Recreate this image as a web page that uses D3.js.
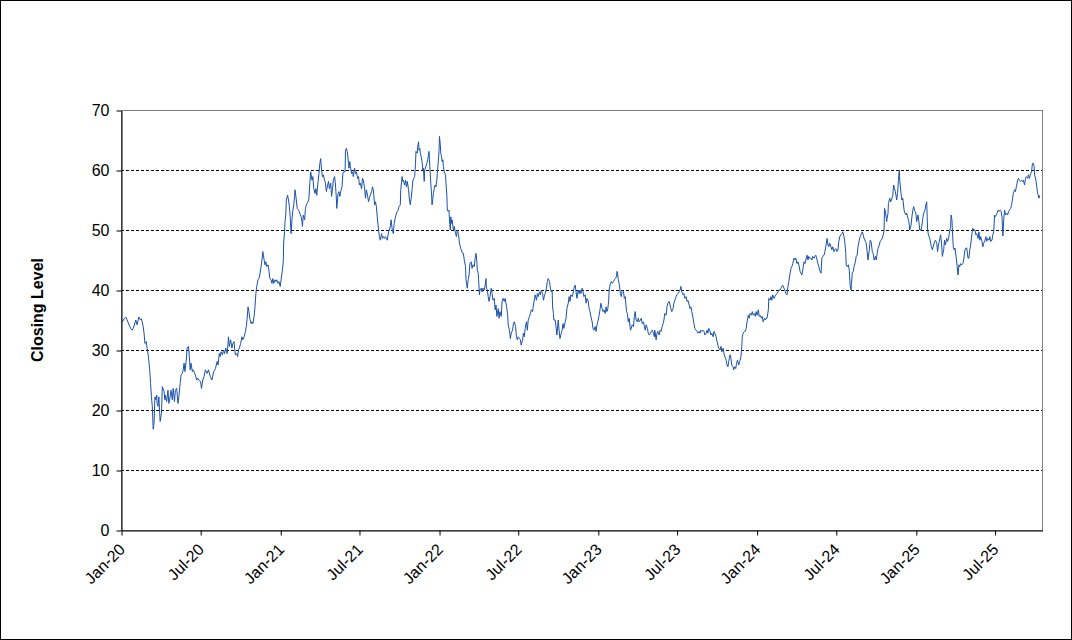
<!DOCTYPE html>
<html><head><meta charset="utf-8">
<script src="https://cdn.jsdelivr.net/npm/d3@7"></script>
<style>
body{margin:0;background:#fff}
svg{display:block}
text{font-family:"Liberation Sans",Arial,Helvetica,sans-serif;fill:#000}
</style>
</head><body>
<svg id="chart" width="1072" height="640"></svg>
<script>
// Closing levels: [days since 2020-01-01, close]
const levels2020 = [[3,34.7],[8,35.3],[11,35.5],[14,35],[22,33.6],[26,33.3],[30,34],[34,35],[37,34.2],[41,35.5],[45,35],[47,35.2],[51,33.9],[53,32.8],[55,31.1],[58,31.4],[60,30.3],[63,28.9],[66,26.7],[68,24.4],[70,22.2],[72,20.6],[74,16.8],[76,17.8],[78,22.2],[80,21.7],[82,22.5],[83,21.1],[85,20.6],[87,22.2],[90,18.1],[93,19.4],[95,23.9],[99,23.1],[101,21.7],[102,22.5],[105,21.4],[108,23.3],[110,21.1],[113,22.2],[115,23.3],[118,21.7],[120,23.6],[123,21.4],[125,23.3],[128,23.6],[131,21.1],[133,22.2],[136,24.4],[138,25.8],[141,26.1],[143,26.7],[145,27.8],[147,26.4],[150,28.3],[152,30.3],[155,30.6],[156,30],[159,26.7],[161,27.8],[164,26.4],[166,26.7],[168,26.4],[171,25.8],[174,25],[176,25.3],[179,25],[183,24.7],[185,23.6],[188,25],[191,25.6],[194,26.7],[198,26.1],[201,26.7],[205,25.6],[209,25],[213,26.4],[217,26.9],[221,28.1],[223,27.5],[226,29.4],[228,28.9],[230,29.7],[233,29.2],[236,30],[238,29.4],[241,30.3],[244,29.4],[246,31.1],[247,32.2],[249,30.6],[252,31.7],[255,30.3],[257,31.1],[260,31.4],[261,30.3],[263,29.2],[266,29.4],[268,28.9],[270,30],[272,30.3],[275,31.1],[278,32.2],[280,31.7],[283,32.2],[286,33.1],[288,33.9],[290,35.3],[292,37.2],[294,36.4],[296,35.3],[299,34.4],[301,34.7],[303,34.4],[306,35.6],[308,37.2],[310,39.4],[312,40.6],[315,41.7],[317,41.9],[319,42.5],[322,43.9],[324,45],[326,46.4],[329,45],[331,44.2],[333,44.7],[335,43.9],[338,44.2],[340,43.3],[342,41.9],[345,41.7],[347,41.1],[349,41.9],[351,41.1],[354,41.7],[356,41.4],[358,41.7],[361,41.1],[363,41.4]];

const levels2021 = [[366,40.6],[368,41.7],[371,43.3],[373,44.7],[374,48],[376,49.7],[377,51.4],[379,52.8],[380,55],[383,55.8],[385,55],[387,53.9],[389,52.2],[391,49.4],[393,51.7],[395,53.3],[397,54.2],[399,55.6],[400,56.7],[403,55],[405,53.6],[408,53.3],[411,52.8],[414,52.2],[416,51.4],[417,50.6],[419,52.5],[422,51.7],[424,53.6],[426,54.2],[430,54.7],[432,55.3],[434,57.8],[436,59.7],[439,58.3],[441,58.9],[443,56.9],[446,56.1],[448,56.9],[450,55.8],[453,58.1],[455,59.4],[457,61.1],[459,61.9],[461,60],[463,58.9],[465,59.2],[468,58.3],[470,57.8],[472,56.4],[475,57.5],[477,58.1],[479,56.9],[482,57.8],[484,55.6],[486,56.7],[488,58.3],[491,58.9],[493,57.5],[495,55.3],[496,53.6],[499,56.1],[501,56.4],[503,55.6],[505,56.4],[508,57.2],[510,59.4],[512,59.7],[515,59.7],[516,63.3],[518,63.6],[520,63.1],[521,62.5],[523,61.1],[524,60.3],[526,61.4],[527,60.6],[530,59.4],[532,59.7],[534,58.9],[537,60.3],[539,59.4],[541,59.7],[544,58.6],[546,58.9],[548,57.5],[550,57.8],[553,56.9],[555,58.6],[557,58.3],[560,56.9],[562,55.3],[564,56.7],[567,55.6],[569,54.7],[571,55.3],[573,55.8],[576,56.4],[578,57.2],[580,56.7],[583,54.2],[585,54.7],[587,53.9],[589,52.2],[592,50],[594,48.9],[596,48.3],[599,49.4],[601,48.6],[603,48.9],[606,48.6],[608,48.9],[610,48.6],[612,48.3],[615,49.7],[617,50],[619,50.6],[621,51.7],[623,50.3],[626,49.4],[628,51.1],[630,51.9],[632,52.5],[635,53.1],[637,53.3],[639,53.9],[642,54.2],[643,56.7],[645,58.1],[646,58.9],[648,58.1],[649,58.3],[652,57.5],[654,58.3],[656,57.2],[658,58.1],[661,56.7],[663,55],[665,54.2],[667,55.3],[669,56.7],[671,58.3],[673,58.6],[675,58.9],[677,61.1],[678,63.1],[681,62.8],[682,63.9],[684,64.7],[685,63.3],[687,63.6],[688,62.8],[690,62.2],[692,61.4],[694,60],[695,60.3],[697,58.1],[698,60],[701,60.6],[703,61.1],[705,61.7],[708,63.1],[709,61.7],[711,59.2],[712,57.8],[714,55.8],[715,54.2],[717,55.3],[718,56.1],[720,56.9],[722,57.5],[724,57.2],[726,58.3],[727,59.4],[729,61.1]];

const levels2022 = [[731,63.1],[732,65.6],[734,64.2],[735,62.8],[737,62.2],[738,61.4],[740,61.7],[741,60.6],[743,59.7],[746,59.2],[747,57.8],[749,55.8],[750,53.3],[752,53.1],[754,53.3],[755,51.7],[757,50],[758,52.2],[760,51.1],[761,51.7],[763,50.6],[764,50],[766,50.6],[769,49.4],[771,48.9],[773,50],[776,49.2],[778,47.8],[780,47.2],[782,46.7],[785,46.1],[787,46.1],[789,45],[792,43.9],[793,41.7],[796,40.3],[798,41.7],[800,42.5],[802,44.4],[805,44.7],[807,43.6],[809,44.2],[812,43.9],[814,45.3],[816,46.1],[818,44.7],[819,43.3],[821,42.8],[822,41.7],[824,39.2],[825,40],[828,40.3],[830,39.7],[832,40.3],[835,40],[837,40.8],[839,41.9],[840,40.3],[842,40],[844,38.9],[846,38.1],[848,38.9],[851,40.3],[853,39.4],[855,38.3],[858,38.6],[860,36.7],[862,37.5],[864,35.6],[867,36.9],[869,35.3],[871,36.4],[874,35.6],[876,38.1],[878,38.6],[881,38.1],[883,38.6],[885,37.8],[887,36.9],[889,35.6],[890,34.2],[893,33.3],[895,31.9],[897,32.8],[900,33.3],[902,34.4],[904,34.7],[907,33.9],[909,32.2],[911,31.7],[913,32.2],[916,31.9],[918,31.7],[920,30.8],[923,31.7],[925,32.8],[927,32.2],[929,33.6],[932,34.7],[934,33.3],[936,35],[939,35.6],[941,36.1],[943,36.7],[946,36.4],[948,37.5],[950,38.3],[952,39.2],[955,38.3],[957,39.4],[959,38.9],[962,39.7],[964,39.2],[966,40],[969,39.4],[971,38.3],[973,38.9],[975,39.4],[978,40.3],[980,41.4],[982,41.9],[985,41.4],[987,40.3],[989,39.7],[991,40],[992,37.2],[994,36.1],[995,35],[998,35],[1000,33.9],[1002,32.5],[1005,35],[1007,33.3],[1009,31.9],[1012,32.8],[1014,33.3],[1016,34.4],[1018,33.6],[1021,34.7],[1023,35.3],[1025,36.9],[1028,37.8],[1030,38.9],[1032,38.1],[1034,39.2],[1037,38.9],[1039,39.4],[1041,40.3],[1044,40.8],[1046,39.7],[1048,38.6],[1051,40],[1053,39.4],[1055,40],[1057,39.4],[1060,40.3],[1062,39.7],[1064,38.9],[1067,39.2],[1069,37.8],[1071,38.6],[1074,38.1],[1076,36.9],[1078,36.4],[1080,35.6],[1083,34.7],[1085,33.6],[1087,33.3],[1090,33.9],[1092,33.1],[1094,34.2]];

const levels2023 = [[1096,34.7],[1099,35.8],[1101,36.7],[1103,37.8],[1106,36.9],[1108,36.4],[1110,36.7],[1113,36.1],[1115,37.2],[1117,36.4],[1119,36.9],[1121,38.3],[1122,40],[1125,41.1],[1127,41.4],[1129,41.1],[1132,41.4],[1134,41.7],[1136,41.9],[1139,42.2],[1140,43.1],[1142,42.5],[1143,41.7],[1145,41.1],[1148,39.4],[1150,38.9],[1152,40],[1155,39.7],[1157,38.6],[1159,38.9],[1162,36.4],[1164,36.1],[1166,34.7],[1168,35.3],[1171,33.3],[1173,33.6],[1175,34.2],[1178,33.9],[1180,35.6],[1182,36.4],[1184,35],[1187,34.7],[1189,35.3],[1191,34.7],[1194,35],[1196,35.3],[1198,34.4],[1201,34.7],[1203,33.9],[1205,33.3],[1207,34.2],[1210,33.6],[1212,32.8],[1214,32.5],[1217,32.8],[1219,33.1],[1221,33.3],[1224,32.8],[1226,32.2],[1227,33.3],[1230,31.7],[1232,32.8],[1234,33.1],[1237,32.5],[1239,33.3],[1241,33.1],[1244,33.9],[1246,34.4],[1248,35],[1250,36.1],[1253,35.8],[1255,37.2],[1257,37.8],[1260,38.1],[1262,37.5],[1264,36.9],[1266,36.4],[1269,36.9],[1271,37.8],[1273,38.3],[1276,38.9],[1278,39.2],[1280,39.4],[1283,39.7],[1285,40],[1287,40.6],[1289,39.7],[1292,39.2],[1294,39.4],[1296,38.6],[1299,38.9],[1301,38.1],[1303,38.3],[1306,37.5],[1308,36.9],[1310,37.2],[1312,36.4],[1315,35.3],[1317,34.4],[1319,33.6],[1322,33.3],[1324,33.1],[1326,32.8],[1329,33.1],[1331,32.8],[1333,33.3],[1335,33.1],[1338,33.3],[1340,33.1],[1342,32.5],[1345,32.8],[1347,33.3],[1349,32.8],[1351,33.6],[1354,33.1],[1356,32.5],[1358,32.8],[1361,32.2],[1363,33.1],[1365,32.8],[1368,32.2],[1370,31.4],[1372,30.8],[1374,30.3],[1377,30],[1379,30.6],[1381,29.7],[1384,30.3],[1386,29.4],[1388,28.9],[1391,28.3],[1393,27.5],[1395,27.2],[1397,28.1],[1400,29.2],[1402,28.6],[1404,27.5],[1407,27.2],[1408,26.7],[1411,27.2],[1413,26.9],[1415,27.8],[1417,28.3],[1420,27.5],[1422,28.1],[1423,28.3],[1425,28.9],[1427,30.6],[1428,32.2],[1430,32.8],[1433,33.1],[1435,33.1],[1437,33.6],[1439,34.7],[1442,35.8],[1444,35.3],[1446,36.1],[1449,35.8],[1451,36.4],[1453,35.8],[1456,36.1],[1458,35.6],[1460,36.4]];

const levels2024 = [[1462,35.8],[1465,36.7],[1467,35.6],[1469,35.8],[1472,35.3],[1474,35.6],[1476,34.7],[1479,35.3],[1481,35],[1483,35.3],[1485,35.3],[1488,36.7],[1489,38.6],[1492,38.3],[1494,38.9],[1496,38.3],[1498,39.2],[1501,38.6],[1503,38.9],[1505,39.2],[1508,39.4],[1510,39.7],[1512,40],[1515,40],[1517,40.3],[1519,40.6],[1521,40.8],[1524,40.3],[1526,40],[1528,39.4],[1531,39.2],[1533,40.6],[1535,41.4],[1538,42.8],[1540,43.6],[1542,43.9],[1544,44.4],[1547,45.3],[1549,45],[1551,45.3],[1554,44.4],[1556,44.7],[1558,44.2],[1561,43.1],[1563,42.8],[1565,42.5],[1567,43.3],[1570,44.7],[1572,44.4],[1574,45],[1577,45.8],[1579,45],[1581,45.6],[1583,45.3],[1586,45.3],[1588,45],[1590,45.6],[1593,45.3],[1595,45.6],[1597,45.8],[1600,45],[1602,44.4],[1604,43.9],[1606,43.3],[1609,42.8],[1611,45.3],[1613,45.6],[1616,45.8],[1618,46.4],[1620,47.2],[1623,48.6],[1625,47.5],[1627,47.2],[1629,47.8],[1632,47.2],[1634,46.7],[1636,47.2],[1639,46.4],[1641,46.7],[1643,46.9],[1646,46.4],[1648,46.7],[1650,48.1],[1652,48.9],[1655,49.2],[1657,49.4],[1659,49.7],[1662,48.9],[1664,47.8],[1666,46.1],[1667,44.2],[1669,43.9],[1672,44.2],[1674,43.3],[1676,40.8],[1678,40],[1679,41.1],[1681,42.8],[1683,43.1],[1685,43.9],[1688,44.7],[1690,45.6],[1692,45.8],[1694,47.2],[1697,48.3],[1699,48.9],[1701,49.2],[1704,49.7],[1706,49.2],[1708,48.6],[1711,48.1],[1713,47.8],[1715,46.4],[1717,45],[1720,46.7],[1722,48.3],[1724,48.1],[1727,46.4],[1729,46.1],[1731,45],[1734,45.6],[1736,45],[1738,46.1],[1740,46.9],[1743,47.5],[1745,48.1],[1747,48.3],[1750,48.6],[1752,49.2],[1754,50],[1755,53.6],[1757,53.1],[1758,52.5],[1760,51.4],[1761,51.9],[1763,52.8],[1764,54.4],[1767,55.3],[1769,54.7],[1771,55],[1774,55.8],[1776,57.5],[1778,56.9],[1780,56.4],[1783,55],[1785,56.1],[1787,58.3],[1789,60],[1790,58.3],[1793,56.1],[1795,55],[1797,55.3],[1800,53.3],[1802,52.8],[1804,52.5],[1806,52.8],[1809,51.9],[1811,51.4],[1813,50],[1816,50.8],[1818,52.2],[1820,53.3],[1822,53.9],[1825,53.1]];

const levels2025 = [[1827,52.8],[1829,51.4],[1832,52.5],[1834,51.4],[1836,50],[1839,50],[1841,50.8],[1843,51.9],[1845,52.8],[1848,53.3],[1850,54.2],[1852,54.7],[1854,50],[1856,49.2],[1859,48.6],[1861,47.8],[1863,47.2],[1865,46.7],[1868,47.5],[1870,48.1],[1872,48.3],[1875,47.8],[1877,46.4],[1879,47.5],[1881,48.1],[1884,49.2],[1886,47.8],[1888,45.6],[1891,46.7],[1893,48.3],[1895,47.5],[1898,48.6],[1900,48.1],[1902,48.6],[1904,49.4],[1907,50.6],[1908,52.5],[1910,51.7],[1911,50],[1913,47.2],[1915,46.7],[1917,47],[1920,45.3],[1922,43.9],[1924,42.5],[1926,44.2],[1928,43.9],[1930,44.4],[1933,44.2],[1935,44.4],[1937,45],[1940,46.7],[1942,47],[1944,47],[1947,45.3],[1949,45.3],[1951,46.7],[1953,47.5],[1956,49.4],[1958,50.3],[1960,50],[1963,50],[1965,49.2],[1967,49.4],[1970,48.6],[1972,49.7],[1974,48.3],[1976,48.9],[1979,48.1],[1981,47.2],[1983,47.8],[1986,48.3],[1988,48.9],[1990,48.1],[1992,48.6],[1995,48.3],[1997,48.9],[1999,48.1],[2002,48.3],[2004,49.2],[2006,49.7],[2008,52.5],[2009,52.2],[2012,52.5],[2014,52.8],[2016,53.3],[2018,53.1],[2021,53.3],[2023,53.1],[2025,52.2],[2027,49],[2029,51.7],[2031,53.3],[2033,52.5],[2035,52.8],[2038,52.5],[2040,53.1],[2042,53.3],[2045,53.6],[2047,54.2],[2049,55],[2051,56.1],[2054,56.7],[2056,56.4],[2058,57.2],[2061,58.3],[2063,58.6],[2065,58.3],[2068,58.1],[2070,58.3],[2072,58.1],[2074,58.3],[2077,57.5],[2079,58.6],[2081,58.9],[2084,58.6],[2086,59.2],[2088,58.6],[2091,59.4],[2093,59.7],[2095,61.1],[2097,61.1],[2099,60.6],[2100,59.2],[2103,58.3],[2105,57.2],[2107,56.1],[2110,55.3],[2112,55.8]];

const yTickValues = [0, 10, 20, 30, 40, 50, 60, 70];
const gridValues = [10, 20, 30, 40, 50, 60];
const dateDomain = ["2020-01-01", "2025-10-18"];
const yTitle = "Closing Level";

const W = 1072, H = 640;
const plot = {left: 121, right: 1042, top: 110, bottom: 530};
const base = new Date(2020, 0, 1);
const parse = d3.timeParse("%Y-%m-%d");
const FONT = '"Liberation Sans",Arial,sans-serif';

const data = [].concat(levels2020, levels2021, levels2022, levels2023, levels2024, levels2025)
  .map(([d, v]) => ({date: d3.timeDay.offset(base, d), value: v}));

const svg = d3.select("#chart");
svg.append("rect").attr("x", 0.5).attr("y", 0.5).attr("width", W - 1).attr("height", H - 1)
  .attr("fill", "#fff").attr("stroke", "#000").attr("stroke-width", 1);

const x = d3.scaleTime().domain(dateDomain.map(parse)).range([plot.left, plot.right]);
const y = d3.scaleLinear().domain([0, 70]).range([plot.bottom, plot.top]);

// plot area border
svg.append("rect").attr("x", plot.left + 0.5).attr("y", plot.top + 0.5)
  .attr("width", plot.right - plot.left).attr("height", plot.bottom - plot.top)
  .attr("fill", "none").attr("stroke", "#808080").attr("stroke-width", 1);

// gridlines
svg.append("g").selectAll("line").data(gridValues).join("line")
  .attr("x1", plot.left).attr("x2", plot.right)
  .attr("y1", d => Math.round(y(d)) + 0.5).attr("y2", d => Math.round(y(d)) + 0.5)
  .attr("stroke", "#000").attr("stroke-width", 1).attr("stroke-dasharray", "3,2");

// line
const line = d3.line().x(d => x(d.date)).y(d => y(d.value));
svg.append("path").datum(data).attr("d", line)
  .attr("fill", "none").attr("stroke", "#1a52aa").attr("stroke-width", 1)
  .attr("stroke-linejoin", "round");

// y axis
const yAxis = d3.axisLeft(y).tickValues(yTickValues).tickSize(5).tickSizeOuter(0).tickPadding(7).tickFormat(d3.format("d"));
const gy = svg.append("g").attr("transform", `translate(${plot.left + 0.5},0.5)`).call(yAxis);
gy.attr("font-size", null).attr("font-family", null);
gy.select(".domain").attr("stroke", "#000");
gy.selectAll(".tick line").attr("stroke", "#000");
gy.selectAll(".tick text").style("font-size", "16px").style("font-family", FONT);

// x axis
const xAxis = d3.axisBottom(x).ticks(d3.timeMonth.every(6)).tickSize(5).tickSizeOuter(0).tickFormat(d3.timeFormat("%b-%y"));
const gx = svg.append("g").attr("transform", `translate(0.5,${plot.bottom + 0.5})`).call(xAxis);
gx.attr("font-size", null).attr("font-family", null);
gx.select(".domain").attr("stroke", "#000");
gx.selectAll(".tick line").attr("stroke", "#000");
gx.selectAll(".tick text")
  .style("font-size", "16px").style("font-family", FONT)
  .attr("text-anchor", "end")
  .attr("transform", "translate(0,16) rotate(-45)")
  .attr("x", 0).attr("y", 0).attr("dy", "0.35em");

// y title
svg.append("text").attr("transform", "translate(43,310) rotate(-90)")
  .attr("text-anchor", "middle").style("font-size", "16px").attr("font-weight", "bold")
  .style("font-family", FONT)
  .text(yTitle);
</script>
</body></html>
